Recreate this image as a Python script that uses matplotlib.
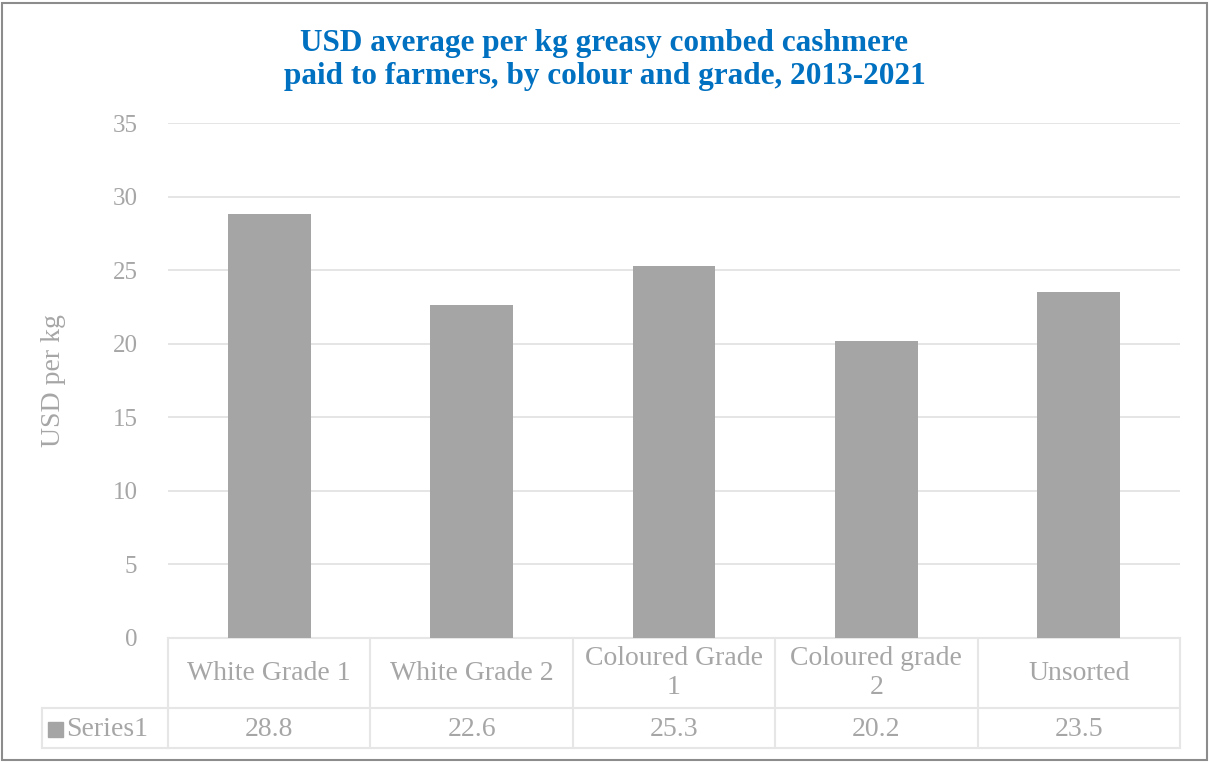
import matplotlib
matplotlib.use("Agg")
import matplotlib.pyplot as plt
from matplotlib.patches import Rectangle
from matplotlib.lines import Line2D
import matplotlib.transforms as mtransforms

categories = ["White Grade 1", "White Grade 2", "Coloured Grade\n1", "Coloured grade\n2", "Unsorted"]
values = [28.8, 22.6, 25.3, 20.2, 23.5]
value_labels = ["28.8", "22.6", "25.3", "20.2", "23.5"]
series_name = "Series1"
yticks = [0, 5, 10, 15, 20, 25, 30, 35]
title = "USD average per kg greasy combed cashmere\npaid to farmers, by colour and grade, 2013-2021"
ylabel = "USD per kg"

plt.rcParams['font.family'] = ['Liberation Serif', 'DejaVu Serif']
W, H = 1209, 762
fig = plt.figure(figsize=(W / 100, H / 100), dpi=100)

def fx(px):
    return px / W

def fy(py):
    return 1 - py / H

left, right, top, bottom = 168, 1180, 123, 638
ax = fig.add_axes([fx(left), fy(bottom), fx(right) - fx(left), fy(top) - fy(bottom)])

bar_color = "#A5A5A5"
text_gray = "#A6A6A6"
grid_color = "#E3E3E3"

x = list(range(len(categories)))
ax.bar(x, values, width=0.41, color=bar_color, zorder=3)
ax.set_xlim(-0.5, len(categories) - 0.5)
ax.set_ylim(0, 35)
ax.set_yticks(yticks)
ax.set_yticklabels([str(t) for t in yticks], fontsize=18, color=text_gray)
ax.tick_params(axis='y', length=0, pad=22)
ax.set_xticks([])
for s in ax.spines.values():
    s.set_visible(False)
ax.grid(axis='y', color=grid_color, linewidth=1.3, zorder=0)
ax.set_axisbelow(True)

ax.set_ylabel(ylabel, fontsize=20, color=text_gray)
ax.yaxis.set_label_coords(-0.101, 0.5)

# Data table below axes
ah = bottom - top
hdr = -(708 - bottom) / ah
row_bot = -(748 - bottom) / ah
trans = mtransforms.blended_transform_factory(ax.transData, ax.transAxes)
line_kw = dict(color="#E6E6E6", linewidth=1.5, clip_on=False)

n = len(categories)
ax.add_line(Line2D([-0.5, n - 0.5], [0, 0], transform=trans, **line_kw))
ax.add_line(Line2D([-0.5, n - 0.5], [hdr, hdr], transform=trans, **line_kw))
ax.add_line(Line2D([-0.5, n - 0.5], [row_bot, row_bot], transform=trans, **line_kw))
lc = -(left - 42) / (right - left)
ax.add_line(Line2D([lc, 0], [hdr, hdr], transform=ax.transAxes, **line_kw))
ax.add_line(Line2D([lc, 0], [row_bot, row_bot], transform=ax.transAxes, **line_kw))
ax.add_line(Line2D([lc, lc], [hdr, row_bot], transform=ax.transAxes, **line_kw))
for b in [i - 0.5 for i in range(n + 1)]:
    ax.add_line(Line2D([b, b], [0, row_bot], transform=trans, **line_kw))

for i, (c, v) in enumerate(zip(categories, value_labels)):
    ax.text(i, hdr / 2, c, transform=trans, ha='center', va='center',
            fontsize=20, color=text_gray, linespacing=1.25)
    ax.text(i, (hdr + row_bot) / 2 - 0.003, v, transform=trans, ha='center', va='center',
            fontsize=20, color=text_gray)

ax.text(fx(66), fy(729), series_name, transform=fig.transFigure, ha='left', va='center',
        fontsize=20, color=text_gray)
fig.patches.append(Rectangle((fx(48), fy(737)), fx(15), 15 / H, transform=fig.transFigure,
                             color=bar_color))

fig.text(0.5, fy(60), title, ha='center', va='center', fontsize=22.5, fontweight='bold',
         color="#0070C0", linespacing=1.22)

fig.patches.append(Rectangle((fx(1.5), fy(759.5)), fx(1205), 757 / H, transform=fig.transFigure,
                             fill=False, edgecolor="#8C8C8C", linewidth=1.5))

fig.savefig("out.png", dpi=100)
